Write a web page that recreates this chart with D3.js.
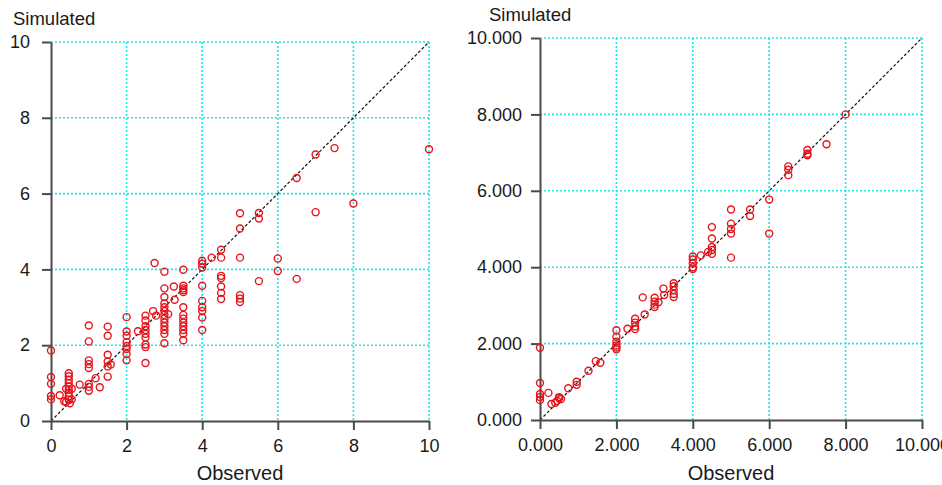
<!DOCTYPE html>
<html>
<head>
<meta charset="utf-8">
<script src="https://cdn.jsdelivr.net/npm/d3@7"></script>
<style>
body { margin: 0; background: #fff; }
text { font-family: "Liberation Sans", Arial, sans-serif; fill: #1a1a1a; }
</style>
</head>
<body>
<div id="chart"></div>
<script>
// left panel: observed vs simulated
var obsA = [0, 0, 0, 0, 0, 0.23, 0.35, 0.4, 0.4,
    0.47, 0.47, 0.47, 0.47, 0.47, 0.47, 0.47, 0.47, 0.47, 0.5,
    0.55, 0.55, 0.76,
    1, 1, 1, 1, 1, 1, 1, 1, 1.18, 1.29,
    1.5, 1.5, 1.5, 1.5, 1.5, 1.5, 1.58,
    2, 2, 2, 2, 2, 2, 2, 2, 2.3,
    2.5, 2.5, 2.5, 2.5, 2.5, 2.5, 2.5, 2.5, 2.5,
    2.7, 2.74, 2.78,
    3, 3, 3, 3, 3, 3, 3, 3, 3, 3, 3, 3, 3,
    3.1, 3.25, 3.27,
    3.5, 3.5, 3.5, 3.5, 3.5, 3.5, 3.5, 3.5, 3.5, 3.5, 3.5, 3.5, 3.5,
    4, 4, 4, 4, 4, 4, 4, 4, 4,
    4.25, 4.5, 4.5, 4.5, 4.5, 4.5, 4.5, 4.5,
    5, 5, 5, 5, 5, 5, 5.5, 5.5, 5.5,
    6, 6, 6.5, 6.5, 7, 7, 7.5, 8, 10];
var simA = [1.86, 1.16, 0.98, 0.66, 0.57, 0.68, 0.52, 0.5, 0.85,
    1.26, 1.18, 1.09, 1.0, 0.91, 0.82, 0.74, 0.65, 0.56, 0.47,
    0.85, 0.57, 0.96,
    2.52, 2.1, 1.6, 1.5, 1.4, 0.98, 0.9, 0.8, 1.13, 0.89,
    2.49, 2.25, 1.75, 1.57, 1.44, 1.17, 1.49,
    2.74, 2.36, 2.25, 2.08, 1.98, 1.9, 1.77, 1.6, 2.37,
    2.78, 2.65, 2.5, 2.4, 2.3, 2.2, 2.02, 1.95, 1.53,
    2.9, 4.17, 2.78,
    3.94, 3.5, 3.27, 3.1, 3.0, 2.9, 2.8, 2.7, 2.6, 2.5, 2.4, 2.3, 2.05,
    2.82, 3.55, 3.2,
    3.99, 3.57, 3.5, 3.45, 3.4, 3.0, 2.8, 2.7, 2.6, 2.5, 2.4, 2.3, 2.13,
    4.23, 4.15, 4.05, 3.57, 3.17, 3.0, 2.9, 2.73, 2.4,
    4.31, 4.52, 4.31, 3.83, 3.77, 3.55, 3.38, 3.22,
    5.48, 5.08, 4.31, 3.32, 3.23, 3.14, 5.49, 5.34, 3.69,
    4.29, 3.96, 6.41, 3.75, 7.03, 5.51, 7.2, 5.74, 7.17];

// right panel: observed vs simulated
var obsB = [0, 0, 0, 0, 0, 0.22, 0.3, 0.4, 0.45, 0.5, 0.5, 0.55,
    0.74, 0.96, 0.96, 1.27, 1.46, 1.58,
    2, 2, 2, 2, 2, 2, 2.29, 2.49, 2.49, 2.49, 2.49,
    2.69, 2.74, 3, 3, 3, 3, 3.1, 3.23, 3.25,
    3.5, 3.5, 3.5, 3.5, 3.5,
    4, 4, 4, 4, 4, 4.21, 4.4,
    4.5, 4.5, 4.5, 4.5, 4.5,
    5, 5, 5, 5, 5, 5.5, 5.5, 6, 6,
    6.5, 6.5, 6.5, 7, 7, 7, 7.5, 8];
var simB = [1.89, 0.97, 0.68, 0.6, 0.52, 0.71, 0.42, 0.45, 0.5, 0.57, 0.6, 0.55,
    0.83, 1.0, 0.92, 1.29, 1.54, 1.5,
    2.35, 2.18, 2.05, 1.95, 1.9, 1.85, 2.39, 2.65, 2.55, 2.45, 2.38,
    3.21, 2.76, 3.2, 3.1, 3.02, 2.96, 3.08, 3.44, 3.27,
    3.58, 3.5, 3.4, 3.3, 3.22,
    4.28, 4.2, 4.1, 4.0, 3.95, 4.31, 4.4,
    5.05, 4.75, 4.53, 4.45, 4.35,
    5.51, 5.14, 5.0, 4.88, 4.25, 5.51, 5.34, 5.77, 4.88,
    6.64, 6.55, 6.41, 7.07, 6.97, 6.93, 7.22, 8.0];

var tickVals = [0, 2, 4, 6, 8, 10];
var tickLabelsA = ["0", "2", "4", "6", "8", "10"];
var tickLabelsB = ["0.000", "2.000", "4.000", "6.000", "8.000", "10.000"];

var svg = d3.select("#chart")
    .append("svg")
    .attr("width", 942)
    .attr("height", 485);

function plotPanel(left, top, width, height, obs, sim, labels, padY) {
    var x = d3.scaleLinear().domain([0, 10]).range([0, width]);
    var y = d3.scaleLinear().domain([0, 10]).range([height, 0]);

    var g = svg.append("g")
        .attr("transform", "translate(" + left + "," + top + ")");

    // grid
    g.selectAll(".vgrid")
        .data(tickVals.slice(1))
        .enter().append("line")
        .attr("x1", function (d) { return x(d); })
        .attr("x2", function (d) { return x(d); })
        .attr("y1", 0)
        .attr("y2", height)
        .attr("stroke", "#22e4ec")
        .attr("stroke-width", 1.6)
        .attr("stroke-dasharray", "2,2");
    g.selectAll(".hgrid")
        .data(tickVals.slice(1))
        .enter().append("line")
        .attr("x1", 0)
        .attr("x2", width)
        .attr("y1", function (d) { return y(d); })
        .attr("y2", function (d) { return y(d); })
        .attr("stroke", "#22e4ec")
        .attr("stroke-width", 1.6)
        .attr("stroke-dasharray", "2,2");

    // 1:1 line
    g.append("line")
        .attr("x1", x(0)).attr("y1", y(0))
        .attr("x2", x(10)).attr("y2", y(10))
        .attr("stroke", "#111")
        .attr("stroke-width", 1.2)
        .attr("stroke-dasharray", "3,2");

    var xAxis = d3.axisBottom(x).tickValues(tickVals)
        .tickFormat(function (d, i) { return labels[i]; })
        .tickSize(9).tickSizeOuter(0).tickPadding(9);
    var yAxis = d3.axisLeft(y).tickValues(tickVals)
        .tickFormat(function (d, i) { return labels[i]; })
        .tickSize(9).tickSizeOuter(0).tickPadding(padY);

    var gx = g.append("g")
        .attr("transform", "translate(0," + height + ")")
        .call(xAxis);
    var gy = g.append("g").call(yAxis);

    [gx, gy].forEach(function (a) {
        a.selectAll("path, line").attr("stroke", "#4a4a4a").attr("stroke-width", 2);
        a.selectAll("text").style("font-size", "18px").attr("fill", "#1a1a1a");
    });

    // points
    g.selectAll(".pt")
        .data(obs)
        .enter().append("circle")
        .attr("cx", function (d) { return x(d); })
        .attr("cy", function (d, i) { return y(sim[i]); })
        .attr("r", 3.5)
        .attr("fill", "none")
        .attr("stroke", "#e8121b")
        .attr("stroke-width", 1.4);

    return g;
}

plotPanel(51, 42, 378, 379, obsA, simA, tickLabelsA, 12);
plotPanel(540, 38, 382, 382, obsB, simB, tickLabelsB, 9);

svg.append("text").attr("x", 13).attr("y", 25).style("font-size", "18.5px").text("Simulated");
svg.append("text").attr("x", 489).attr("y", 21).style("font-size", "18.5px").text("Simulated");
svg.append("text").attr("x", 240).attr("y", 480).attr("text-anchor", "middle").style("font-size", "20px").text("Observed");
svg.append("text").attr("x", 731).attr("y", 480).attr("text-anchor", "middle").style("font-size", "20px").text("Observed");
</script>
</body>
</html>
